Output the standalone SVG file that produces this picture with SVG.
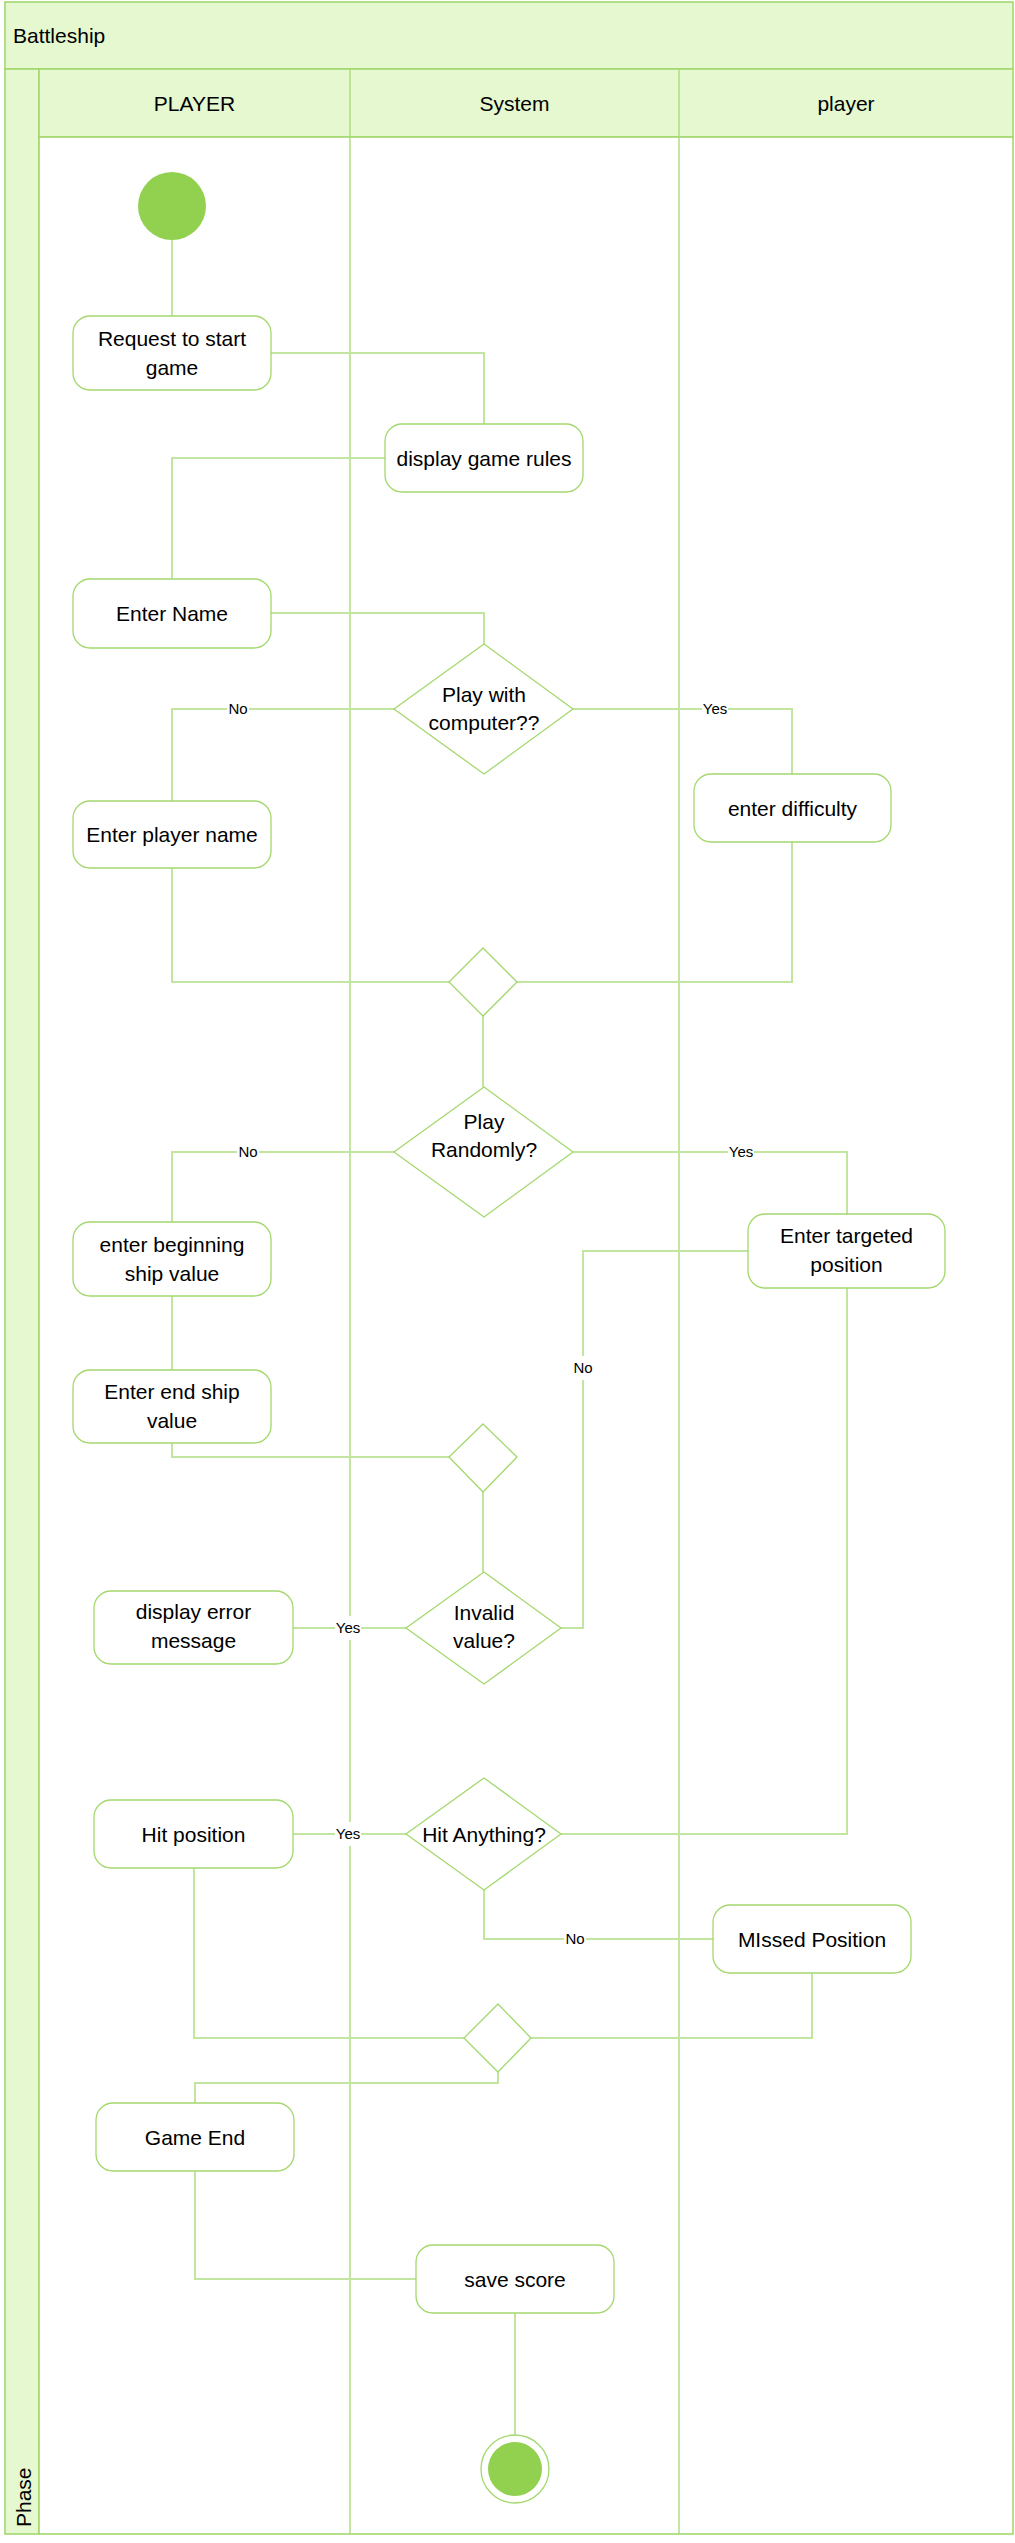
<svg xmlns="http://www.w3.org/2000/svg" width="1015" height="2543" viewBox="0 0 1015 2543">
<style>
.bg{fill:#E5F8CF;stroke:#A3D86E;stroke-width:1.6}
.lane{stroke:#A9DB7A;stroke-width:1.4;fill:none}
.node{fill:#FFFFFF;stroke:#A4D86E;stroke-width:1.3}
.conn{fill:none;stroke:#C2E5A0;stroke-width:2}
.t{font-family:"Liberation Sans",Arial,sans-serif;font-size:21px;fill:#000;text-anchor:middle}
.lbl{font-family:"Liberation Sans",Arial,sans-serif;font-size:15px;fill:#000;text-anchor:middle}
.lblbg{fill:#FFFFFF}
.dot{fill:#92D050}
</style>
<rect x="0" y="0" width="1015" height="2543" fill="#FFFFFF"/>
<g id="pool">
<rect class="bg" x="5" y="2" width="1008" height="67"/>
<text class="t" x="13" y="43" style="text-anchor:start">Battleship</text>
<rect class="bg" x="5" y="69" width="34" height="2465"/>
<rect class="bg" x="39" y="69" width="974" height="68"/>
<rect x="39" y="137" width="974" height="2397" fill="#FFFFFF" stroke="#A3D86E" stroke-width="1.6"/>
<line class="lane" x1="350" y1="69" x2="350" y2="2534"/>
<line class="lane" x1="679" y1="69" x2="679" y2="2534"/>
<text class="t" x="194.5" y="111">PLAYER</text>
<text class="t" x="514.5" y="111">System</text>
<text class="t" x="846" y="111">player</text>
<text class="t" x="0" y="0" font-size="20" style="text-anchor:start" transform="translate(30.5,2527) rotate(-90)">Phase</text>
</g>
<g id="connectors">
<polyline class="conn" points="172,240 172,316"/>
<polyline class="conn" points="271,353 484,353 484,424"/>
<polyline class="conn" points="385,458 172,458 172,579"/>
<polyline class="conn" points="271,613 484,613 484,644"/>
<polyline class="conn" points="394,709 172,709 172,801"/>
<polyline class="conn" points="573,709 792,709 792,774"/>
<polyline class="conn" points="172,868 172,982 449,982"/>
<polyline class="conn" points="792,842 792,982 517,982"/>
<polyline class="conn" points="483,1016 483,1087"/>
<polyline class="conn" points="394,1152 172,1152 172,1222"/>
<polyline class="conn" points="573,1152 847,1152 847,1214"/>
<polyline class="conn" points="172,1296 172,1370"/>
<polyline class="conn" points="172,1443 172,1457 449,1457"/>
<polyline class="conn" points="483,1492 483,1572"/>
<polyline class="conn" points="561,1628 583,1628 583,1251 748,1251"/>
<polyline class="conn" points="406,1628 293,1628"/>
<polyline class="conn" points="847,1288 847,1834 561,1834"/>
<polyline class="conn" points="406,1834 293,1834"/>
<polyline class="conn" points="484,1890 484,1939 713,1939"/>
<polyline class="conn" points="194,1868 194,2038 464,2038"/>
<polyline class="conn" points="812,1973 812,2038 531,2038"/>
<polyline class="conn" points="498,2072 498,2083 195,2083 195,2103"/>
<polyline class="conn" points="195,2171 195,2279 416,2279"/>
<polyline class="conn" points="515,2313 515,2435"/>
<g id="labels">
<rect class="lblbg" x="227" y="699" width="22" height="20"/><text class="lbl" x="238" y="714">No</text>
<rect class="lblbg" x="702" y="699" width="26" height="20"/><text class="lbl" x="715" y="714">Yes</text>
<rect class="lblbg" x="237" y="1142" width="22" height="20"/><text class="lbl" x="248" y="1157">No</text>
<rect class="lblbg" x="728" y="1142" width="26" height="20"/><text class="lbl" x="741" y="1157">Yes</text>
<rect class="lblbg" x="572" y="1356" width="22" height="24"/><text class="lbl" x="583" y="1373">No</text>
<rect class="lblbg" x="335" y="1616" width="26" height="24"/><text class="lbl" x="348" y="1633">Yes</text>
<rect class="lblbg" x="335" y="1822" width="26" height="24"/><text class="lbl" x="348" y="1839">Yes</text>
<rect class="lblbg" x="564" y="1929" width="22" height="20"/><text class="lbl" x="575" y="1944">No</text>
</g>
</g>
<g id="start"><circle class="dot" cx="172" cy="206" r="34"/></g>
<g id="request"><rect class="node" x="73" y="316" width="198" height="74" rx="17"/><text class="t" x="172" y="346">Request to start</text><text class="t" x="172" y="375">game</text></g>
<g id="rules"><rect class="node" x="385" y="424" width="198" height="68" rx="17"/><text class="t" x="484" y="465.5">display game rules</text></g>
<g id="entername"><rect class="node" x="73" y="579" width="198" height="69" rx="17"/><text class="t" x="172" y="621">Enter Name</text></g>
<g id="playcomputer"><polygon class="node" points="484,644 573,709 484,774 394,709"/><text class="t" x="484" y="702">Play with</text><text class="t" x="484" y="730">computer??</text></g>
<g id="playername"><rect class="node" x="73" y="801" width="198" height="67" rx="17"/><text class="t" x="172" y="842">Enter player name</text></g>
<g id="difficulty"><rect class="node" x="694" y="774" width="197" height="68" rx="17"/><text class="t" x="792.5" y="815.5">enter difficulty</text></g>
<g id="merge1"><polygon class="node" points="483,948 517,982 483,1016 449,982"/></g>
<g id="randomly"><polygon class="node" points="484,1087 573,1152 484,1217 394,1152"/><text class="t" x="484" y="1129">Play</text><text class="t" x="484" y="1157">Randomly?</text></g>
<g id="beginning"><rect class="node" x="73" y="1222" width="198" height="74" rx="17"/><text class="t" x="172" y="1252">enter beginning</text><text class="t" x="172" y="1281">ship value</text></g>
<g id="endship"><rect class="node" x="73" y="1370" width="198" height="73" rx="17"/><text class="t" x="172" y="1399">Enter end ship</text><text class="t" x="172" y="1428">value</text></g>
<g id="targeted"><rect class="node" x="748" y="1214" width="197" height="74" rx="17"/><text class="t" x="846.5" y="1243">Enter targeted</text><text class="t" x="846.5" y="1272">position</text></g>
<g id="merge2"><polygon class="node" points="483,1424 517,1457 483,1492 449,1457"/></g>
<g id="invalid"><polygon class="node" points="484,1572 561,1628 484,1684 406,1628"/><text class="t" x="484" y="1620">Invalid</text><text class="t" x="484" y="1648">value?</text></g>
<g id="error"><rect class="node" x="94" y="1591" width="199" height="73" rx="17"/><text class="t" x="193.5" y="1619">display error</text><text class="t" x="193.5" y="1648">message</text></g>
<g id="hitanything"><polygon class="node" points="484,1778 561,1834 484,1890 406,1834"/><text class="t" x="484" y="1842">Hit Anything?</text></g>
<g id="hitposition"><rect class="node" x="94" y="1800" width="199" height="68" rx="17"/><text class="t" x="193.5" y="1841.5">Hit position</text></g>
<g id="missed"><rect class="node" x="713" y="1905" width="198" height="68" rx="17"/><text class="t" x="812" y="1946.5">MIssed Position</text></g>
<g id="merge3"><polygon class="node" points="498,2004 531,2038 498,2072 464,2038"/></g>
<g id="gameend"><rect class="node" x="96" y="2103" width="198" height="68" rx="17"/><text class="t" x="195" y="2144.5">Game End</text></g>
<g id="savescore"><rect class="node" x="416" y="2245" width="198" height="68" rx="17"/><text class="t" x="515" y="2286.5">save score</text></g>
<g id="end"><circle class="node" cx="515" cy="2469" r="34"/><circle class="dot" cx="515" cy="2469" r="27"/></g>
</svg>
